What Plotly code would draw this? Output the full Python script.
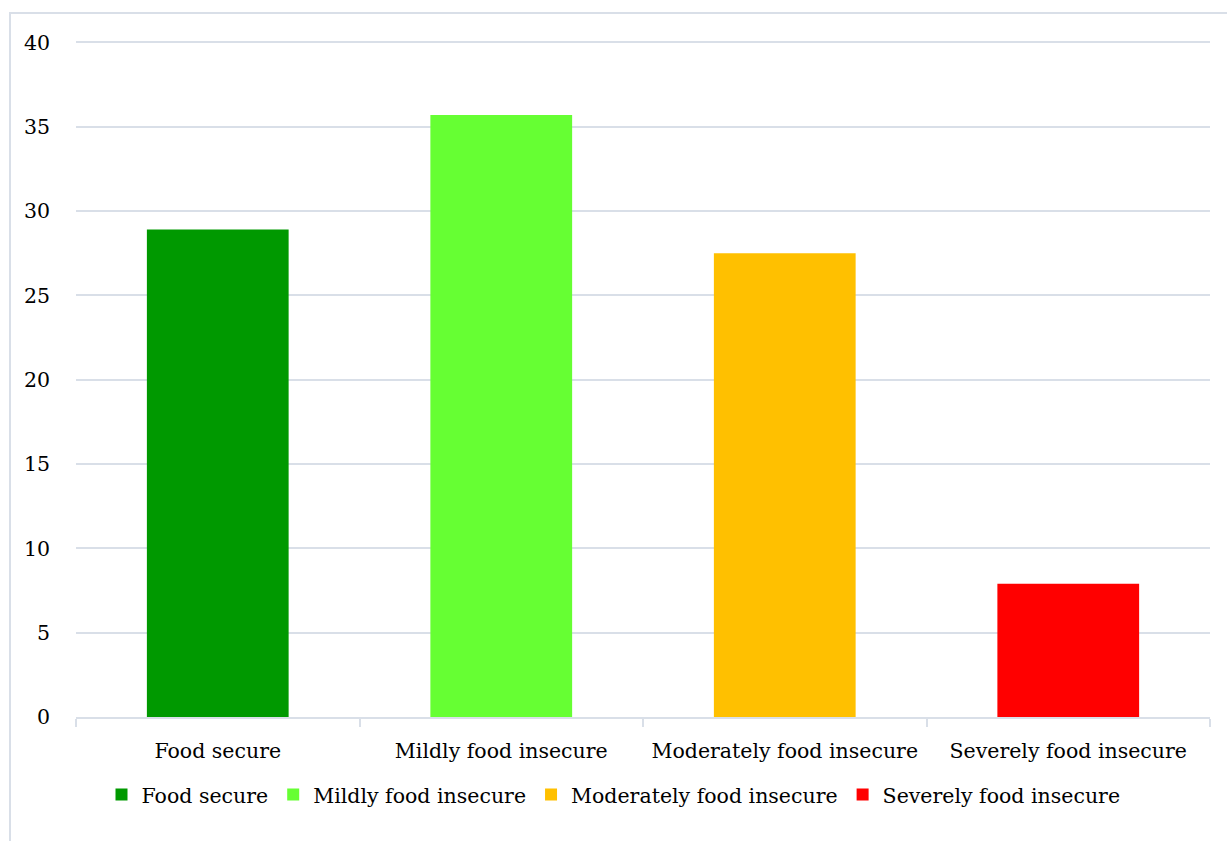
import plotly.graph_objects as go

categories = ["Food secure", "Mildly food insecure", "Moderately food insecure", "Severely food insecure"]
values = [28.9, 35.7, 27.5, 7.9]
colors = ["#009900", "#66FF33", "#FFC000", "#FF0000"]
y_ticks = [0, 5, 10, 15, 20, 25, 30, 35, 40]

FONT = "DejaVu Serif"
FS = 20.5
GRID = "#D9DFE8"

fig = go.Figure()
for cat, val, col in zip(categories, values, colors):
    fig.add_trace(go.Bar(
        x=[cat], y=[val], name=cat, marker=dict(color=col, line=dict(width=0)),
        width=0.5, showlegend=True,
    ))

fig.update_layout(
    width=1227, height=841,
    margin=dict(l=76, r=17, t=39, b=124),
    paper_bgcolor="white", plot_bgcolor="white",
    font=dict(family=FONT, size=FS, color="#000000"),
    barmode="overlay",
    showlegend=True,
    legend=dict(
        orientation="h", xref="container", yref="container",
        x=0.5, xanchor="center", y=0.055, yanchor="middle",
        font=dict(family=FONT, size=FS, color="#000000"),
        itemwidth=30, tracegroupgap=0,
    ),
    xaxis=dict(
        categoryorder="array", categoryarray=categories,
        showgrid=False, showline=True, linecolor=GRID, linewidth=2,
        ticks="outside", tickson="boundaries", ticklen=8, tickcolor=GRID, tickwidth=2,
        tickfont=dict(family=FONT, size=FS, color="#000000"),
        ticklabelstandoff=14,
    ),
    yaxis=dict(
        range=[0, 40.2], tickvals=y_ticks, showgrid=True, gridcolor=GRID, gridwidth=2,
        zeroline=False, showline=False, ticks="",
        tickfont=dict(family=FONT, size=FS, color="#000000"),
        ticklabelstandoff=25,
    ),
    shapes=[dict(
        type="rect", xref="paper", yref="paper",
        x0=(10 - 76) / 1134, x1=1.05, y0=-0.3, y1=1 + (39 - 13) / 678,
        line=dict(color=GRID, width=2), fillcolor="rgba(0,0,0,0)", layer="below",
    )],
)

fig.write_html("out.html")
